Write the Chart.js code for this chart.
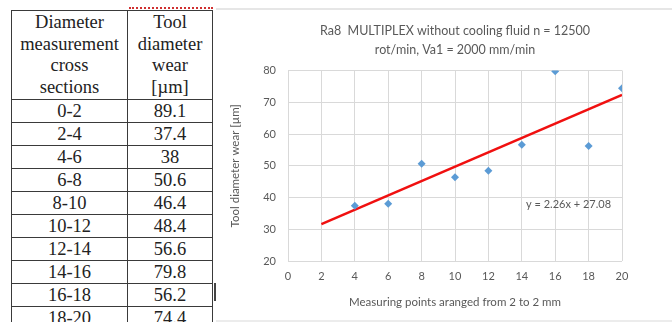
<!DOCTYPE html>
<html>
<head>
<meta charset="utf-8">
<script src="https://cdn.jsdelivr.net/npm/chart.js@4.4.0/dist/chart.umd.min.js"></script>
<style>
  html, body { margin:0; padding:0; width:672px; height:322px; overflow:hidden; background:#fff; }
  #tbl { position:absolute; left:11px; top:10px; border-collapse:collapse; font-family:"Liberation Serif", serif; font-size:18.5px; color:#222; }
  #tbl td { border:1.5px solid #3a3a3a; text-align:center; padding:0; line-height:22px; height:22px; }
  #tbl td.h { line-height:21.5px; height:88px; }
  #redDots { position:absolute; left:129px; top:7px; width:84px; border-top:2px dotted #d03030; }
  #bar { position:absolute; left:214px; top:283px; width:2px; height:18px; background:#444; }
  #frame { position:absolute; left:216px; top:8px; width:456px; height:310px; border-top:2px solid #e6e6e6; border-bottom:4px solid #ececec; }
  #wrap { position:absolute; left:222px; top:10px; width:450px; height:308px; }
</style>
</head>
<body>
<table id="tbl"></table>
<div id="redDots"></div>
<div id="bar"></div>
<div id="frame"></div>
<div id="wrap"><canvas id="c" width="450" height="308"></canvas></div>
<script>
// table data
var sections = ["0-2","2-4","4-6","6-8","8-10","10-12","12-14","14-16","16-18","18-20"];
var wear = ["89.1","37.4","38","50.6","46.4","48.4","56.6","79.8","56.2","74.4"];

// chart data (sections 2-4 .. 18-20 plotted at their end point)
var xPoints = [4,6,8,10,12,14,16,18,20];
var yWear = [37.4,38,50.6,46.4,48.4,56.6,79.8,56.2,74.4];
var trendX = [2,20];
var trendY = [31.6,72.3];
var trendLabel = "y = 2.26x + 27.08";

var xTicks = [0,2,4,6,8,10,12,14,16,18,20];
var yTicks = [20,30,40,50,60,70,80];

var tbl = document.getElementById("tbl");
var html = '<tr><td class="h" style="width:115px">Diameter<br>measurement<br>cross<br>sections</td>' +
           '<td class="h" style="width:84px">Tool<br>diameter<br>wear<br>[µm]</td></tr>';
for (var i = 0; i < sections.length; i++) {
  html += "<tr><td>" + sections[i] + "</td><td>" + wear[i] + "</td></tr>";
}
tbl.innerHTML = html;

var txtColor = "#595959";
var fam = "Lato, 'Open Sans', sans-serif";

// writes the trendline equation
var eqPlugin = {
  id: "eq",
  afterDatasetsDraw(chart) {
    var ctx = chart.ctx;
    var x = chart.scales.x.getPixelForValue(16.8);
    var y = chart.scales.y.getPixelForValue(37.7);
    ctx.save();
    ctx.font = "11px " + fam;
    ctx.fillStyle = txtColor;
    ctx.textAlign = "center";
    ctx.textBaseline = "middle";
    ctx.fillText(trendLabel, x, y);
    ctx.restore();
  }
};

new Chart(document.getElementById("c"), {
  type: "scatter",
  data: {
    datasets: [
      {
        label: "wear",
        data: xPoints.map((x, i) => ({x: x, y: yWear[i]})),
        pointStyle: "rectRot",
        pointRadius: 4,
        backgroundColor: "#5b9bd5",
        borderColor: "#5b9bd5",
        borderWidth: 0
      },
      {
        label: "trend",
        type: "line",
        data: trendX.map((x, i) => ({x: x, y: trendY[i]})),
        borderColor: "#f01010",
        borderWidth: 2.5,
        pointRadius: 0,
        fill: false
      }
    ]
  },
  options: {
    responsive: false,
    animation: false,
    layout: { padding: { left: 6, right: 50, top: 0, bottom: 0 } },
    plugins: {
      legend: { display: false },
      tooltip: { enabled: false },
      title: {
        display: true,
        fullSize: false,
        text: ["Ra8  MULTIPLEX without cooling fluid n = 12500", "rot/min, Va1 = 2000 mm/min"],
        color: txtColor,
        font: { family: fam, size: 12.5, weight: "normal", lineHeight: 1.5 },
        padding: { top: 12, bottom: 11 }
      }
    },
    scales: {
      x: {
        type: "linear",
        min: 0, max: 20,
        afterBuildTicks: s => { s.ticks = xTicks.map(v => ({value: v})); },
        afterFit: s => { s.height = 57; },
        grid: { color: "#d9d9d9", drawTicks: false },
        border: { display: false },
        ticks: { color: txtColor, font: { family: fam, size: 11 }, padding: 9, maxRotation: 0 },
        title: {
          display: true,
          text: "Measuring points aranged from 2 to 2 mm",
          color: txtColor,
          font: { family: fam, size: 11.5 },
          padding: { top: 4, bottom: 9 }
        }
      },
      y: {
        min: 20, max: 80,
        afterBuildTicks: s => { s.ticks = yTicks.map(v => ({value: v})); },
        afterFit: s => { s.width = 60; },
        grid: { color: "#d9d9d9", drawTicks: false },
        border: { display: false },
        ticks: { color: txtColor, font: { family: fam, size: 11 }, padding: 12 },
        title: {
          display: true,
          text: "Tool diameter wear [µm]",
          color: txtColor,
          font: { family: fam, size: 11.5 },
          padding: 0
        }
      }
    }
  },
  plugins: [eqPlugin]
});
</script>
</body>
</html>
